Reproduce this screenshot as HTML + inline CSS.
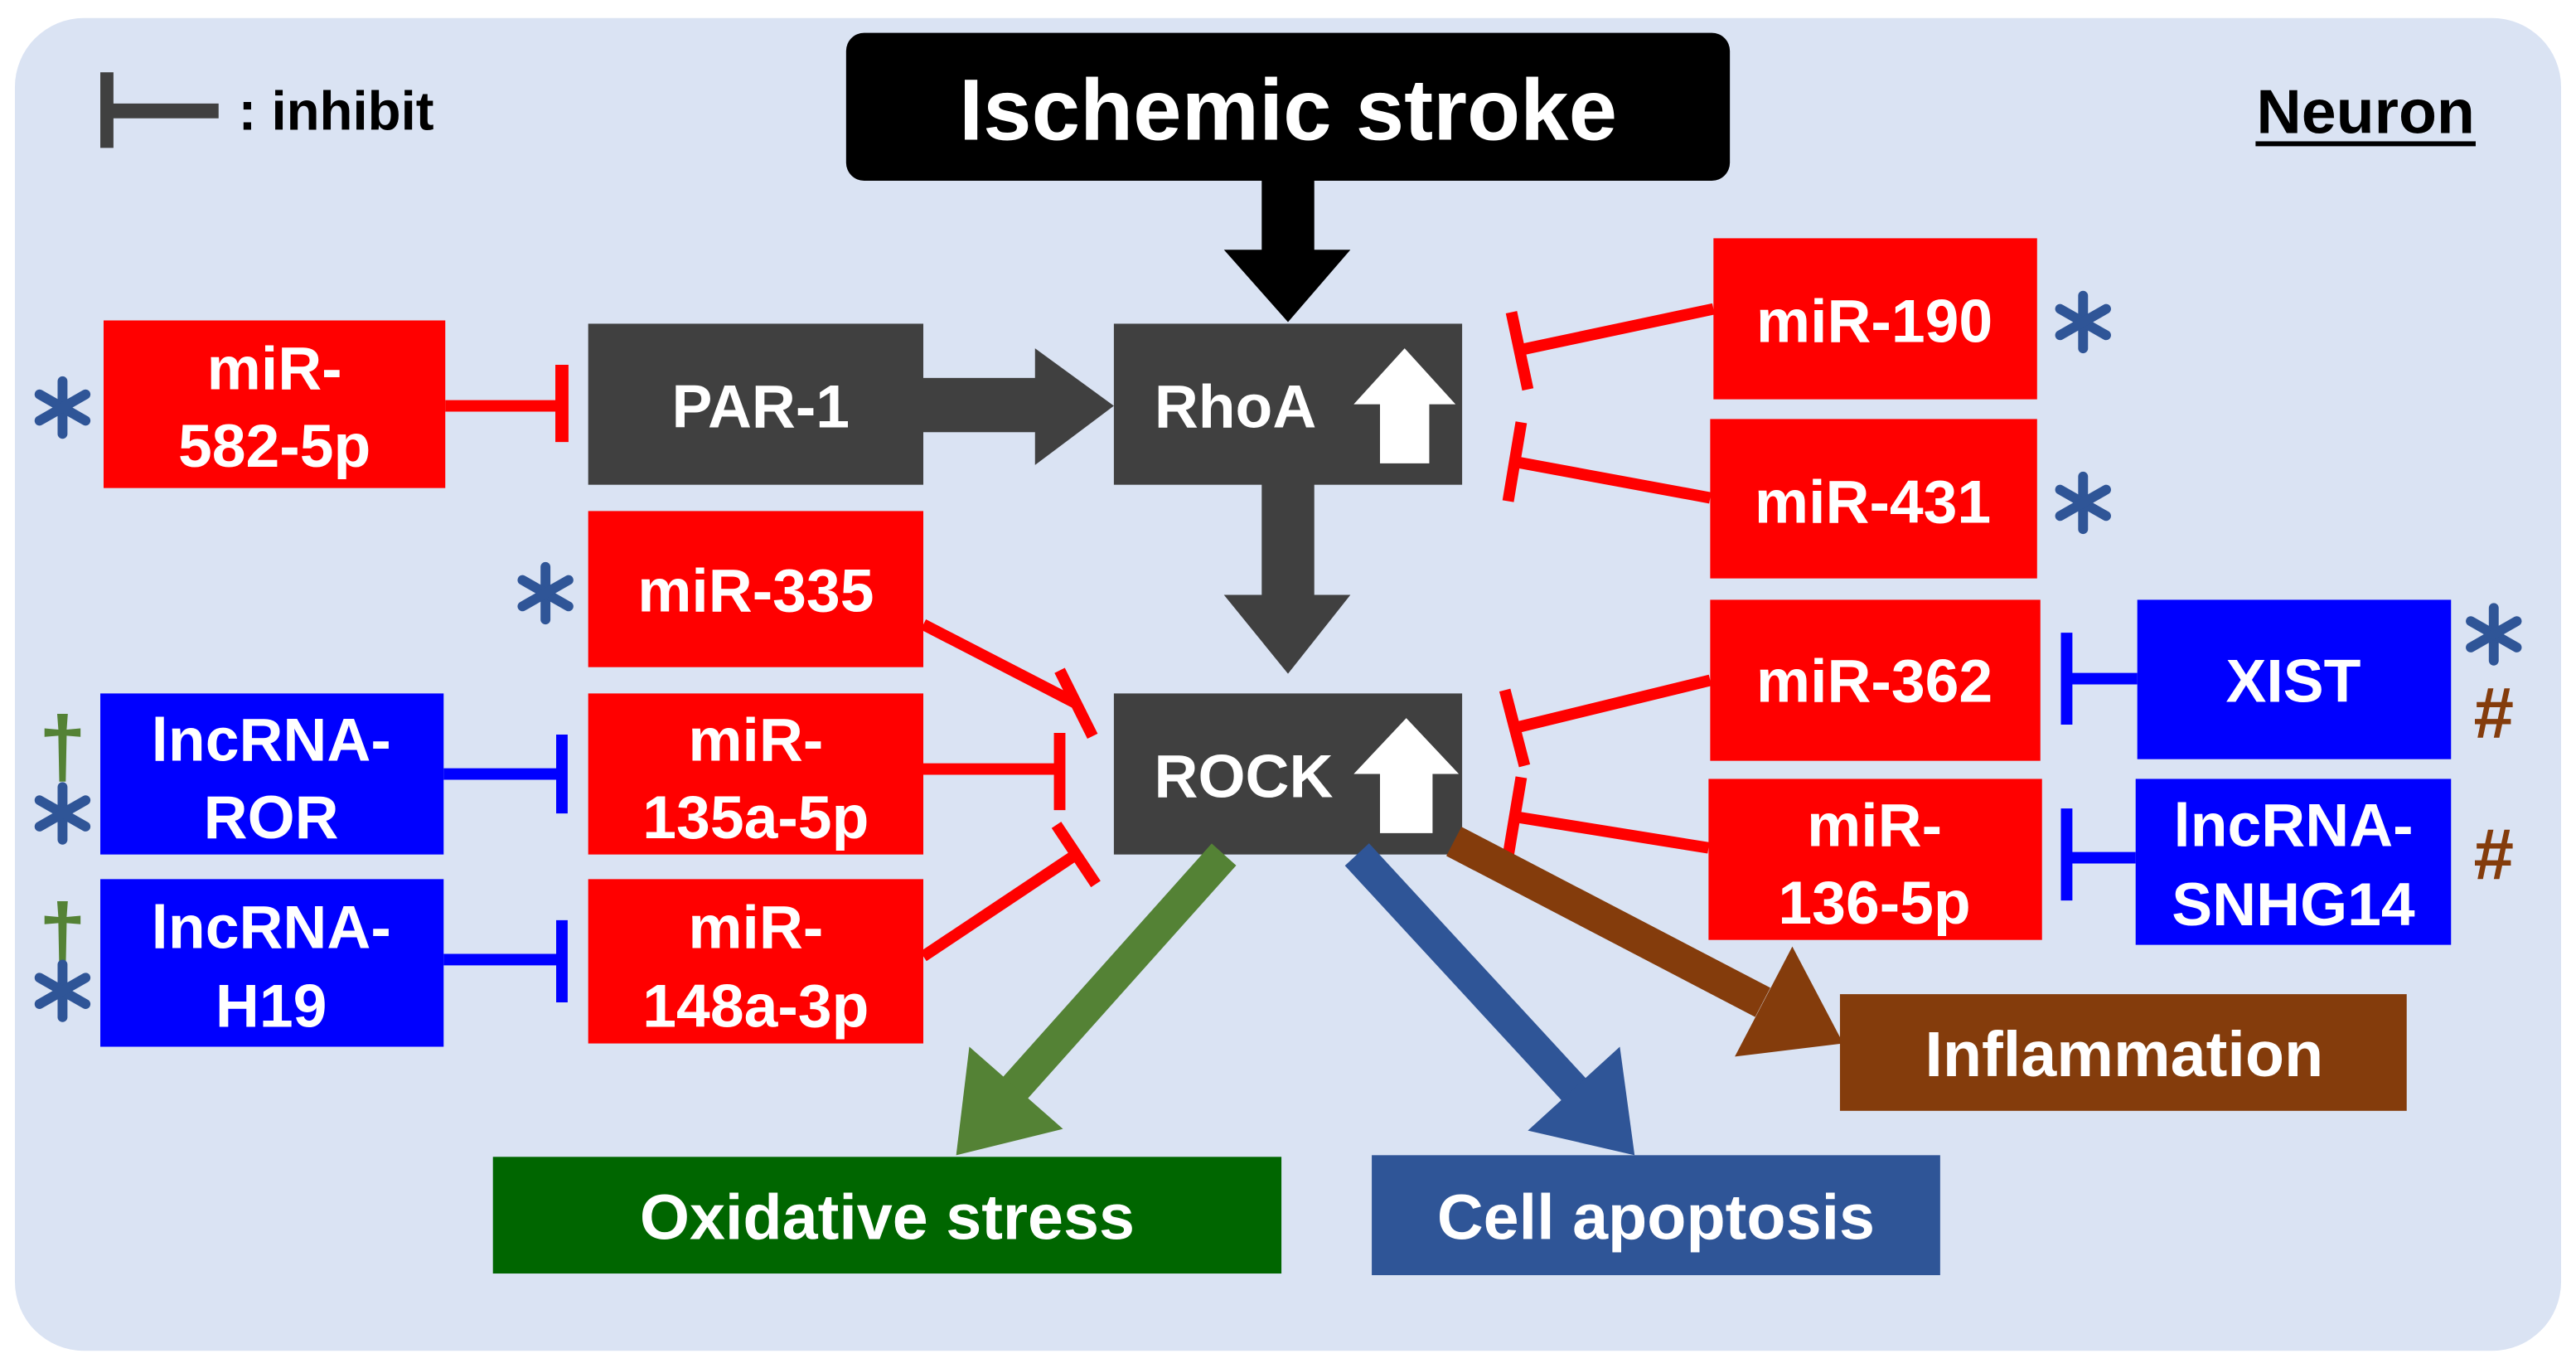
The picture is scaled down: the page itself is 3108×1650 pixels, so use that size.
<!DOCTYPE html>
<html><head><meta charset="utf-8"><style>
html,body{margin:0;padding:0;background:#fff;}
svg{display:block;}
text{font-family:"Liberation Sans",Arial,sans-serif;font-weight:bold;}
</style></head><body>
<svg width="3108" height="1650" viewBox="0 0 1568 832.5" xmlns="http://www.w3.org/2000/svg">
<defs>
<g id="ast"><g stroke="#2f5597" stroke-width="6" stroke-linecap="round"><line x1="0" y1="-16" x2="0" y2="16"/><line x1="-14" y1="-8" x2="14" y2="8"/><line x1="-14" y1="8" x2="14" y2="-8"/></g></g>
</defs>
<rect x="9" y="11" width="1550" height="811" rx="42" fill="#dae3f3"/>

<!-- legend -->
<rect x="61" y="44" width="8" height="46" fill="#404040"/>
<rect x="66" y="63" width="67" height="9" fill="#404040"/>
<text x="145" y="79" font-size="33" fill="#000">: inhibit</text>
<text x="1440" y="81" font-size="38" fill="#000" text-anchor="middle">Neuron</text>
<rect x="1373" y="86" width="134" height="3" fill="#000"/>

<!-- Ischemic stroke -->
<rect x="515" y="20" width="538" height="90" rx="11" fill="#000"/>
<text x="784" y="85" font-size="53" fill="#fff" text-anchor="middle">Ischemic stroke</text>
<rect x="768" y="109" width="32" height="44" fill="#000"/>
<polygon points="745,152 822,152 784,196" fill="#000"/>

<!-- PAR-1 -->
<rect x="358" y="197" width="204" height="98" fill="#404040"/>
<text x="463" y="260" font-size="37" fill="#fff" text-anchor="middle">PAR-1</text>
<rect x="561" y="230" width="70" height="33" fill="#404040"/>
<polygon points="630,212 630,283 678,247" fill="#404040"/>

<!-- RhoA -->
<rect x="678" y="197" width="212" height="98" fill="#404040"/>
<text x="752" y="260" font-size="37" fill="#fff" text-anchor="middle">RhoA</text>
<polygon points="824,246 855,212 886,246 870,246 870,282 840,282 840,246" fill="#fff"/>
<rect x="768" y="294" width="32" height="69" fill="#404040"/>
<polygon points="745,362 822,362 784,410" fill="#404040"/>

<!-- ROCK -->
<rect x="678" y="422" width="212" height="98" fill="#404040"/>
<text x="757" y="485" font-size="37" fill="#fff" text-anchor="middle">ROCK</text>
<polygon points="824,471 856,437 888,471 872,471 872,507 840,507 840,471" fill="#fff"/>

<!-- left red -->
<rect x="63" y="195" width="208" height="102" fill="#ff0000"/>
<text x="167" y="237" font-size="37" fill="#fff" text-anchor="middle">miR-</text>
<text x="167" y="284" font-size="37" fill="#fff" text-anchor="middle">582-5p</text>
<use href="#ast" x="38" y="248"/>
<line x1="271" y1="247" x2="342" y2="247" stroke="#ff0000" stroke-width="7"/>
<rect x="338" y="222" width="8" height="47" fill="#ff0000"/>

<rect x="358" y="311" width="204" height="95" fill="#ff0000"/>
<text x="460" y="372" font-size="37" fill="#fff" text-anchor="middle">miR-335</text>
<use href="#ast" x="332" y="361"/>

<rect x="358" y="422" width="204" height="98" fill="#ff0000"/>
<text x="460" y="463" font-size="37" fill="#fff" text-anchor="middle">miR-</text>
<text x="460" y="510" font-size="37" fill="#fff" text-anchor="middle">135a-5p</text>

<rect x="358" y="535" width="204" height="100" fill="#ff0000"/>
<text x="460" y="577" font-size="37" fill="#fff" text-anchor="middle">miR-</text>
<text x="460" y="625" font-size="37" fill="#fff" text-anchor="middle">148a-3p</text>

<g stroke="#ff0000" stroke-width="7">
<line x1="562" y1="380" x2="655" y2="428"/>
<line x1="645" y1="408" x2="665" y2="448"/>
<line x1="562" y1="468" x2="645" y2="468"/>
<line x1="645" y1="446" x2="645" y2="493"/>
<line x1="562" y1="582" x2="655" y2="520"/>
<line x1="643" y1="502" x2="667" y2="538"/>
</g>

<!-- lncRNAs left -->
<rect x="61" y="422" width="209" height="98" fill="#0000ff"/>
<text x="165" y="463" font-size="37" fill="#fff" text-anchor="middle">lncRNA-</text>
<text x="165" y="510" font-size="37" fill="#fff" text-anchor="middle">ROR</text>
<rect x="61" y="535" width="209" height="102" fill="#0000ff"/>
<text x="165" y="577" font-size="37" fill="#fff" text-anchor="middle">lncRNA-</text>
<text x="165" y="625" font-size="37" fill="#fff" text-anchor="middle">H19</text>
<g stroke="#0000ff" stroke-width="7">
<line x1="270" y1="471" x2="342" y2="471"/>
<line x1="342" y1="447" x2="342" y2="495"/>
<line x1="270" y1="584" x2="342" y2="584"/>
<line x1="342" y1="560" x2="342" y2="610"/>
</g>
<text x="38" y="472" font-size="52" fill="#548235" text-anchor="middle" font-weight="normal">†</text>
<use href="#ast" x="38" y="495"/>
<text x="38" y="586" font-size="52" fill="#548235" text-anchor="middle" font-weight="normal">†</text>
<use href="#ast" x="38" y="603"/>

<!-- right red -->
<rect x="1043" y="145" width="197" height="98" fill="#ff0000"/>
<text x="1141" y="208" font-size="37" fill="#fff" text-anchor="middle">miR-190</text>
<use href="#ast" x="1268" y="196"/>
<rect x="1041" y="255" width="199" height="97" fill="#ff0000"/>
<text x="1140" y="318" font-size="37" fill="#fff" text-anchor="middle">miR-431</text>
<use href="#ast" x="1268" y="306"/>
<rect x="1041" y="365" width="201" height="98" fill="#ff0000"/>
<text x="1141" y="427" font-size="37" fill="#fff" text-anchor="middle">miR-362</text>
<rect x="1040" y="474" width="203" height="98" fill="#ff0000"/>
<text x="1141" y="515" font-size="37" fill="#fff" text-anchor="middle">miR-</text>
<text x="1141" y="562" font-size="37" fill="#fff" text-anchor="middle">136-5p</text>
<g stroke="#ff0000" stroke-width="7">
<line x1="1043" y1="188" x2="925" y2="213"/>
<line x1="920" y1="190" x2="930" y2="237"/>
<line x1="1041" y1="303" x2="922" y2="281"/>
<line x1="926" y1="257" x2="918" y2="305"/>
<line x1="1041" y1="414" x2="922" y2="443"/>
<line x1="916" y1="420" x2="928" y2="466"/>
<line x1="1040" y1="516" x2="922" y2="497"/>
<line x1="926" y1="473" x2="918" y2="521"/>
</g>

<!-- right blue -->
<rect x="1301" y="365" width="191" height="97" fill="#0000ff"/>
<text x="1396" y="427" font-size="37" fill="#fff" text-anchor="middle">XIST</text>
<rect x="1300" y="474" width="192" height="101" fill="#0000ff"/>
<text x="1396" y="515" font-size="37" fill="#fff" text-anchor="middle">lncRNA-</text>
<text x="1396" y="563" font-size="37" fill="#fff" text-anchor="middle">SNHG14</text>
<g stroke="#0000ff" stroke-width="7">
<line x1="1258" y1="413" x2="1301" y2="413"/>
<line x1="1258" y1="385" x2="1258" y2="441"/>
<line x1="1258" y1="522" x2="1300" y2="522"/>
<line x1="1258" y1="492" x2="1258" y2="548"/>
</g>
<use href="#ast" x="1518" y="386"/>
<text x="1518" y="449" font-size="44" fill="#843c0c" text-anchor="middle" font-weight="normal">#</text>
<text x="1518" y="535" font-size="44" fill="#843c0c" text-anchor="middle" font-weight="normal">#</text>

<!-- output arrows -->
<line x1="745" y1="520" x2="618" y2="662" stroke="#548235" stroke-width="20"/>
<polygon points="582,703 647,687 590,637" fill="#548235"/>
<line x1="826" y1="520" x2="958" y2="663" stroke="#2f5597" stroke-width="20"/>
<polygon points="995,703 986,637 930,688" fill="#2f5597"/>
<line x1="885" y1="512" x2="1073" y2="610" stroke="#843c0c" stroke-width="20"/>
<polygon points="1122,635 1056,643 1091,576" fill="#843c0c"/>

<!-- outputs -->
<rect x="300" y="704" width="480" height="71" fill="#006600"/>
<text x="540" y="754" font-size="39" fill="#fff" text-anchor="middle">Oxidative stress</text>
<rect x="835" y="703" width="346" height="73" fill="#2f5597"/>
<text x="1008" y="754" font-size="39" fill="#fff" text-anchor="middle">Cell apoptosis</text>
<rect x="1120" y="605" width="345" height="71" fill="#843c0c"/>
<text x="1293" y="655" font-size="39" fill="#fff" text-anchor="middle">Inflammation</text>
</svg>
</body></html>
